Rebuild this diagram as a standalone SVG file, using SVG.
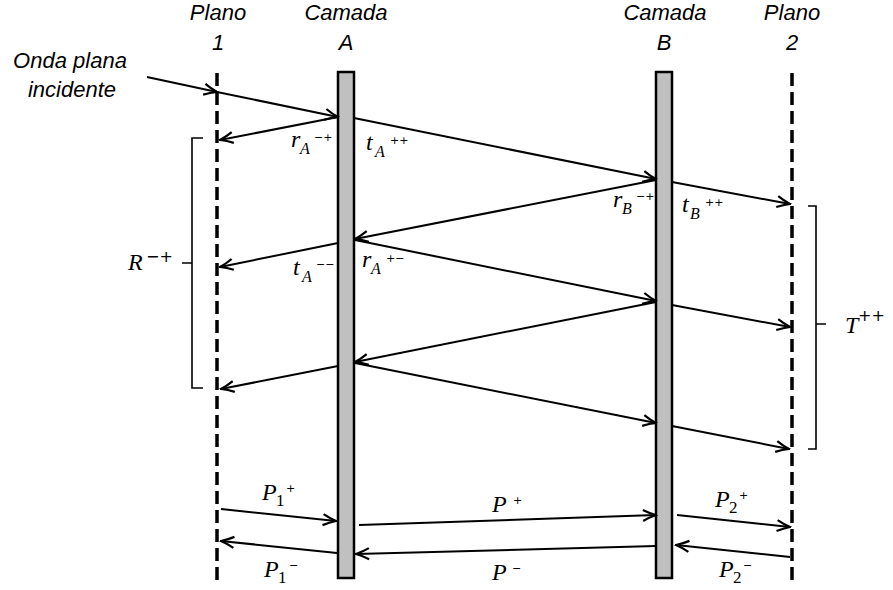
<svg xmlns="http://www.w3.org/2000/svg" width="893" height="590" viewBox="0 0 893 590">
<style>
.hdr{font-family:"Liberation Sans",Arial,sans-serif;font-style:italic;font-size:22px;fill:#000;text-anchor:middle}
.m{font-family:"Liberation Serif","DejaVu Serif",serif;font-style:italic;font-size:24px;fill:#000}
.sub{font-family:"Liberation Serif","DejaVu Serif",serif;font-style:italic;font-size:16px;fill:#000}
.subn{font-family:"Liberation Serif","DejaVu Serif",serif;font-size:17px;fill:#000}
.sup{font-family:"DejaVu Sans",sans-serif;font-size:11px;fill:#000}
.supb{font-family:"DejaVu Sans",sans-serif;font-size:16px;fill:#000}
.plane{stroke:#000;stroke-width:3.5;stroke-dasharray:13,6;fill:none}
.layer{fill:#c0c0c0;stroke:#000;stroke-width:2.5}
.ray{stroke:#000;stroke-width:2;fill:none;marker-end:url(#ah)}
.br{stroke:#000;stroke-width:1.6;fill:none}
</style>
<defs>
<marker id="ah" viewBox="0 0 16 14" refX="14.5" refY="7" markerWidth="16" markerHeight="14" markerUnits="userSpaceOnUse" orient="auto">
<path d="M1.5,1.5 Q8,5 14.5,7 Q8,9 1.5,12.5" fill="none" stroke="#000" stroke-width="2.2"/>
</marker>
</defs>
<g id="titles">
<text class="hdr" x="218" y="20">Plano</text>
<text class="hdr" x="218" y="50">1</text>
<text class="hdr" x="346" y="20">Camada</text>
<text class="hdr" x="346" y="50">A</text>
<text class="hdr" x="665" y="20">Camada</text>
<text class="hdr" x="664" y="50">B</text>
<text class="hdr" x="792" y="20">Plano</text>
<text class="hdr" x="792" y="50">2</text>
<text class="hdr" x="70" y="68">Onda plana</text>
<text class="hdr" x="72" y="97">incidente</text>
</g>
<g id="plano1"><line class="plane" x1="217" y1="73" x2="217" y2="580"/></g>
<g id="plano2"><line class="plane" x1="792" y1="73" x2="792" y2="580"/></g>
<g id="camadaA"><rect class="layer" x="338" y="72" width="16" height="506"/></g>
<g id="camadaB"><rect class="layer" x="656" y="72" width="16" height="506"/></g>
<g id="connectors">
<path class="ray" d="M147,77 L217,92"/>
<path class="ray" d="M217,92 L338,117"/>
<path class="ray" d="M338,117 L220,140"/>
<path class="ray" d="M354,118 L656,179"/>
<path class="ray" d="M656,180 L355,239"/>
<path class="ray" d="M672,182 L790,204"/>
<path class="ray" d="M338,243 L220,267"/>
<path class="ray" d="M355,240 L656,301"/>
<path class="ray" d="M656,302 L355,362"/>
<path class="ray" d="M672,305 L790,327"/>
<path class="ray" d="M338,366 L221,389"/>
<path class="ray" d="M355,363 L656,423"/>
<path class="ray" d="M672,426 L789,449"/>
<path class="ray" d="M221,509 L336,521"/>
<path class="ray" d="M337,553 L221,541"/>
<path class="ray" d="M359,525 L656,515"/>
<path class="ray" d="M656,546 L356,554"/>
<path class="ray" d="M677,515 L790,527"/>
<path class="ray" d="M790,557 L676,545"/>
</g>
<g id="bracketR">
<path class="br" d="M203,138 L192,138 L192,388 L203,388 M192,263 L182,263"/>
<text class="m" x="128" y="270">R</text>
<text class="supb" x="146" y="262">−+</text>
</g>
<g id="bracketT">
<path class="br" d="M808,206 L816,206 L816,449 L808,449 M816,324 L826,324"/>
<text class="m" x="845" y="333">T</text>
<text class="supb" x="858" y="321">++</text>
</g>
<g id="labels">
<text class="m" x="291" y="147">r</text><text class="sub" x="300" y="154">A</text><text class="sup" x="314" y="141">−+</text>
<text class="m" x="366" y="150">t</text><text class="sub" x="375" y="157">A</text><text class="sup" x="390" y="144">++</text>
<text class="m" x="293" y="275">t</text><text class="sub" x="302" y="282">A</text><text class="sup" x="316" y="268">−−</text>
<text class="m" x="362" y="267">r</text><text class="sub" x="371" y="274">A</text><text class="sup" x="386" y="262">+−</text>
<text class="m" x="613" y="207">r</text><text class="sub" x="622" y="214">B</text><text class="sup" x="636" y="200">−+</text>
<text class="m" x="682" y="212">t</text><text class="sub" x="690" y="219">B</text><text class="sup" x="705" y="206">++</text>
<text class="m" x="262" y="500">P</text><text class="subn" x="276" y="506">1</text><text class="sup" x="286" y="492">+</text>
<text class="m" x="264" y="577">P</text><text class="subn" x="278" y="583">1</text><text class="sup" x="289" y="569">−</text>
<text class="m" x="492" y="512">P</text><text class="sup" x="513" y="504">+</text>
<text class="m" x="492" y="580">P</text><text class="sup" x="512" y="572">−</text>
<text class="m" x="715" y="507">P</text><text class="subn" x="729" y="513">2</text><text class="sup" x="739" y="499">+</text>
<text class="m" x="719" y="577">P</text><text class="subn" x="733" y="583">2</text><text class="sup" x="743" y="569">−</text>
</g>
</svg>
